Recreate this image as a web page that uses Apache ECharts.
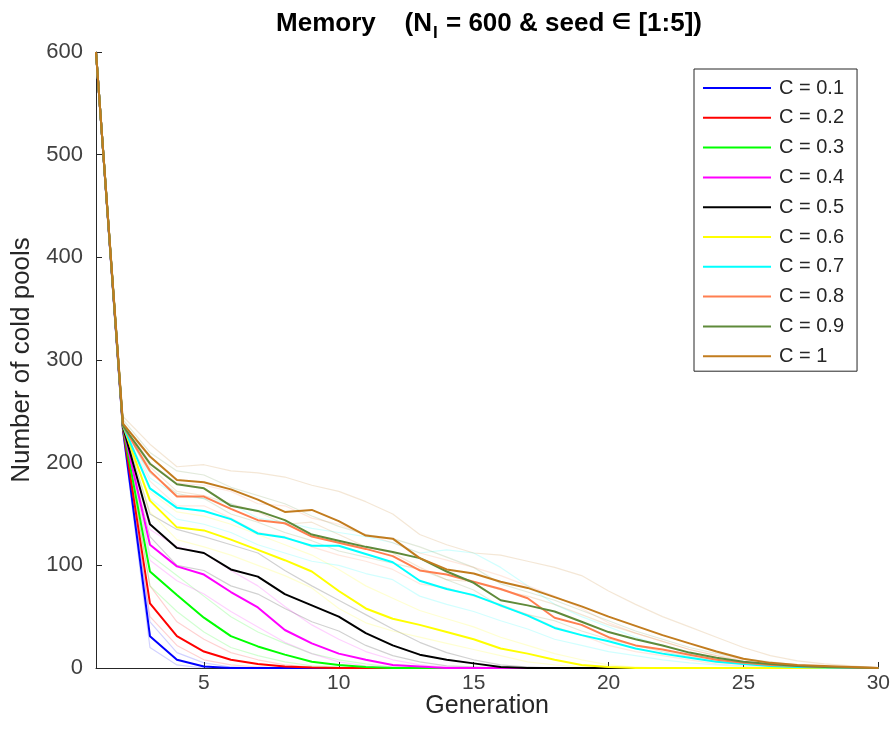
<!DOCTYPE html>
<html>
<head>
<meta charset="utf-8">
<title>Memory</title>
<script src="https://cdn.jsdelivr.net/npm/echarts@6/dist/echarts.min.js"></script>
<style>
  html, body { margin: 0; padding: 0; background: #fff; }
  #chart { width: 893px; height: 744px; }
</style>
</head>
<body>
<div id="chart"></div>
<script>
// generation numbers on the x axis
const generations = [1, 2, 3, 4, 5, 6, 7, 8, 9, 10, 11, 12, 13, 14, 15, 16, 17, 18, 19, 20, 21, 22, 23, 24, 25, 26, 27, 28, 29, 30]
const xTicks = [5, 10, 15, 20, 25, 30]

const names = ['C = 0.1', 'C = 0.2', 'C = 0.3', 'C = 0.4', 'C = 0.5', 'C = 0.6', 'C = 0.7', 'C = 0.8', 'C = 0.9', 'C = 1']
const colors = ['#0000ff', '#ff0000', '#00ff00', '#ff00ff', '#000000', '#ffff00', '#00ffff', '#ff7f50', '#5f8a3a', '#c27c1e']

// mean over seeds (bold lines)
const meanC01 = [600, 232, 31, 8, 1.5, 0, 0, 0, 0, 0, 0, 0, 0, 0, 0, 0, 0, 0, 0, 0, 0, 0, 0, 0, 0, 0, 0, 0, 0, 0]
const meanC02 = [600, 233, 63, 31, 16, 8, 4, 1.5, 0.5, 0, 0, 0, 0, 0, 0, 0, 0, 0, 0, 0, 0, 0, 0, 0, 0, 0, 0, 0, 0, 0]
const meanC03 = [600, 234, 94, 71, 49, 31, 21, 13, 6, 3, 1, 0, 0, 0, 0, 0, 0, 0, 0, 0, 0, 0, 0, 0, 0, 0, 0, 0, 0, 0]
const meanC04 = [600, 235, 120, 99, 91, 74, 59, 37, 24, 14, 8, 3, 1.5, 0, 0, 0, 0, 0, 0, 0, 0, 0, 0, 0, 0, 0, 0, 0, 0, 0]
const meanC05 = [600, 235, 140, 117, 112, 96, 89, 72, 61, 50, 34, 22, 13, 8, 4.5, 1, 0, 0, 0, 0, 0, 0, 0, 0, 0, 0, 0, 0, 0, 0]
const meanC06 = [600, 236, 163, 137, 134, 125, 115, 105, 94, 75, 58, 48, 42, 35, 28, 19, 14, 8, 3, 1, 0, 0, 0, 0, 0, 0, 0, 0, 0, 0]
const meanC07 = [600, 236, 175, 156, 153, 145, 131, 127, 119, 119, 111, 103, 85, 77, 71, 61, 51, 39, 32, 26, 19, 14, 10, 6, 4, 2, 1, 0.5, 0, 0]
const meanC08 = [600, 236, 192, 167, 167, 155, 144, 141, 128, 122, 116, 109, 95, 91, 84, 77, 68, 49, 42, 30, 22, 18, 13, 8, 5, 3, 2, 1, 0.5, 0]
const meanC09 = [600, 236, 199, 179, 175, 158, 153, 144, 130, 124, 118, 113, 107, 94, 83, 66, 61, 55, 45, 35, 28, 22, 15, 10, 6, 4, 2, 1, 0.5, 0]
const meanC1 = [600, 238, 206, 183, 181, 174, 164, 152, 154, 143, 129, 126, 107, 96, 92, 84, 78, 69, 60, 50, 41, 32, 24, 16, 9, 5, 3, 2, 1, 0]

// faint single-seed lines (highest and lowest visible seed for each C)
const seedHiC01 = [600, 236, 45, 15, 5, 1, 0, 0, 0, 0, 0, 0, 0, 0, 0, 0, 0, 0, 0, 0, 0, 0, 0, 0, 0, 0, 0, 0, 0, 0]
const seedLoC01 = [600, 228, 20, 3, 0, 0, 0, 0, 0, 0, 0, 0, 0, 0, 0, 0, 0, 0, 0, 0, 0, 0, 0, 0, 0, 0, 0, 0, 0, 0]
const seedHiC02 = [600, 236, 80, 45, 28, 15, 8, 3, 1, 0, 0, 0, 0, 0, 0, 0, 0, 0, 0, 0, 0, 0, 0, 0, 0, 0, 0, 0, 0, 0]
const seedLoC02 = [600, 230, 50, 22, 8, 3, 1, 0, 0, 0, 0, 0, 0, 0, 0, 0, 0, 0, 0, 0, 0, 0, 0, 0, 0, 0, 0, 0, 0, 0]
const seedHiC03 = [600, 236, 110, 90, 70, 50, 35, 24, 14, 8, 4, 1, 0, 0, 0, 0, 0, 0, 0, 0, 0, 0, 0, 0, 0, 0, 0, 0, 0, 0]
const seedLoC03 = [600, 232, 80, 55, 35, 20, 12, 6, 2, 1, 0, 0, 0, 0, 0, 0, 0, 0, 0, 0, 0, 0, 0, 0, 0, 0, 0, 0, 0, 0]
const seedHiC04 = [600, 238, 135, 118, 112, 95, 80, 60, 42, 28, 16, 8, 3, 1, 0, 0, 0, 0, 0, 0, 0, 0, 0, 0, 0, 0, 0, 0, 0, 0]
const seedLoC04 = [600, 232, 105, 85, 72, 55, 40, 25, 14, 6, 2, 1, 0, 0, 0, 0, 0, 0, 0, 0, 0, 0, 0, 0, 0, 0, 0, 0, 0, 0]
const seedHiC05 = [600, 238, 150, 135, 128, 120, 112, 95, 80, 66, 52, 38, 25, 15, 8, 3, 1, 0, 0, 0, 0, 0, 0, 0, 0, 0, 0, 0, 0, 0]
const seedLoC05 = [600, 232, 128, 100, 95, 80, 72, 58, 45, 36, 22, 12, 6, 2, 1, 0, 0, 0, 0, 0, 0, 0, 0, 0, 0, 0, 0, 0, 0, 0]
const seedHiC06 = [600, 238, 172, 152, 148, 140, 130, 120, 110, 96, 80, 68, 56, 48, 40, 30, 22, 14, 8, 3, 1, 0, 0, 0, 0, 0, 0, 0, 0, 0]
const seedLoC06 = [600, 232, 152, 125, 118, 110, 100, 90, 78, 58, 44, 36, 30, 24, 18, 12, 6, 3, 1, 0, 0, 0, 0, 0, 0, 0, 0, 0, 0, 0]
const seedHiC07 = [600, 240, 185, 168, 165, 160, 146, 142, 136, 132, 128, 122, 112, 115, 112, 98, 80, 62, 50, 40, 30, 22, 14, 8, 5, 2, 1, 0, 0, 0]
const seedLoC07 = [600, 234, 165, 145, 140, 132, 120, 112, 104, 100, 92, 86, 70, 62, 55, 46, 38, 28, 22, 16, 12, 8, 5, 3, 1, 0, 0, 0, 0, 0]
const seedHiC08 = [600, 240, 200, 180, 178, 172, 160, 158, 146, 140, 130, 122, 112, 105, 98, 90, 80, 70, 58, 44, 34, 26, 18, 12, 8, 5, 3, 1, 0, 0]
const seedLoC08 = [600, 234, 182, 158, 158, 146, 132, 128, 118, 110, 104, 96, 82, 78, 70, 62, 52, 40, 32, 22, 16, 12, 8, 4, 2, 1, 0, 0, 0, 0]
const seedHiC09 = [600, 242, 210, 192, 188, 176, 168, 160, 148, 138, 130, 126, 118, 108, 98, 82, 74, 66, 56, 46, 36, 28, 20, 14, 9, 6, 3, 1, 0, 0]
const seedLoC09 = [600, 234, 190, 170, 165, 150, 142, 132, 124, 114, 108, 102, 96, 86, 76, 60, 52, 46, 36, 28, 22, 16, 11, 6, 4, 2, 1, 0, 0, 0]
const seedHiC1 = [600, 245, 218, 196, 198, 192, 190, 186, 178, 172, 162, 150, 130, 120, 112, 110, 104, 98, 90, 75, 62, 50, 40, 30, 20, 12, 7, 4, 2, 0]
const seedLoC1 = [600, 236, 196, 172, 168, 160, 152, 140, 142, 130, 118, 112, 98, 86, 84, 76, 70, 62, 52, 42, 34, 26, 18, 12, 6, 3, 2, 1, 0, 0]

const means = [meanC01, meanC02, meanC03, meanC04, meanC05, meanC06, meanC07, meanC08, meanC09, meanC1]
const seeds = [
  [seedHiC01, seedLoC01], [seedHiC02, seedLoC02], [seedHiC03, seedLoC03], [seedHiC04, seedLoC04],
  [seedHiC05, seedLoC05], [seedHiC06, seedLoC06], [seedHiC07, seedLoC07], [seedHiC08, seedLoC08],
  [seedHiC09, seedLoC09], [seedHiC1, seedLoC1]
]

const FONT = 'Liberation Sans'

function pairs (values) {
  return generations.map((g, i) => [g, values[i]])
}

const series = []
// faint seed lines first so the means sit on top
seeds.forEach((group, k) => {
  group.forEach(values => {
    series.push({
      type: 'line',
      name: 'seed ' + names[k],
      data: pairs(values),
      symbol: 'none',
      silent: true,
      z: 1,
      lineStyle: { color: colors[k], width: 1.2, opacity: 0.18 }
    })
  })
})
means.forEach((values, k) => {
  series.push({
    type: 'line',
    name: names[k],
    data: pairs(values),
    symbol: 'none',
    z: 2 + k,
    color: colors[k],
    lineStyle: { color: colors[k], width: 2 }
  })
})

const chart = echarts.init(document.getElementById('chart'))
chart.setOption({
  animation: false,
  backgroundColor: '#ffffff',
  title: {
    text: '{a|Memory    (N}{sub|I}{a| = 600 & seed }{sym|∈}{a| [1:5])}',
    left: 484,
    textAlign: 'center',
    top: 0,
    textStyle: {
      rich: {
        a: { fontFamily: FONT, fontSize: 26, fontWeight: 'bold', color: '#000' },
        sub: { fontFamily: FONT, fontSize: 17, fontWeight: 'bold', color: '#000', verticalAlign: 'bottom', padding: [20, 1, 0, 1] },
        sym: { fontFamily: 'DejaVu Sans', fontSize: 22, color: '#000' }
      }
    }
  },
  legend: {
    data: names,
    orient: 'vertical',
    left: 694,
    top: 69,
    padding: [9, 13, 5, 9],
    itemWidth: 68,
    itemHeight: 2,
    itemGap: 9.8,
    icon: 'path://M0,0H68V2H0Z',
    borderColor: '#262626',
    borderWidth: 1,
    backgroundColor: '#ffffff',
    textStyle: { fontFamily: FONT, fontSize: 20, color: '#262626', padding: [0, 0, 0, 3] }
  },
  grid: { left: 96, right: 14, top: 52, bottom: 76, containLabel: false },
  xAxis: {
    type: 'value',
    min: 1,
    max: 30,
    name: 'Generation',
    nameLocation: 'middle',
    nameGap: 26,
    nameMoveOverlap: false,
    nameTextStyle: { fontFamily: FONT, fontSize: 25, color: '#262626' },
    axisLine: { lineStyle: { color: '#262626', width: 1 } },
    axisTick: { inside: true, length: 6, customValues: xTicks, lineStyle: { color: '#262626' } },
    axisLabel: { customValues: xTicks, fontFamily: FONT, fontSize: 21, color: '#404040', margin: 5 },
    splitLine: { show: false }
  },
  yAxis: {
    type: 'value',
    min: 0,
    max: 600,
    interval: 100,
    name: 'Number of cold pools',
    nameLocation: 'middle',
    nameGap: 61,
    nameMoveOverlap: false,
    nameTextStyle: { fontFamily: FONT, fontSize: 26, color: '#262626' },
    axisLine: { show: true, lineStyle: { color: '#262626', width: 1 } },
    axisTick: { show: true, inside: true, length: 6, lineStyle: { color: '#262626' } },
    axisLabel: { fontFamily: FONT, fontSize: 22, color: '#404040', margin: 13 },
    splitLine: { show: false }
  },
  series: series
})
</script>
</body>
</html>
